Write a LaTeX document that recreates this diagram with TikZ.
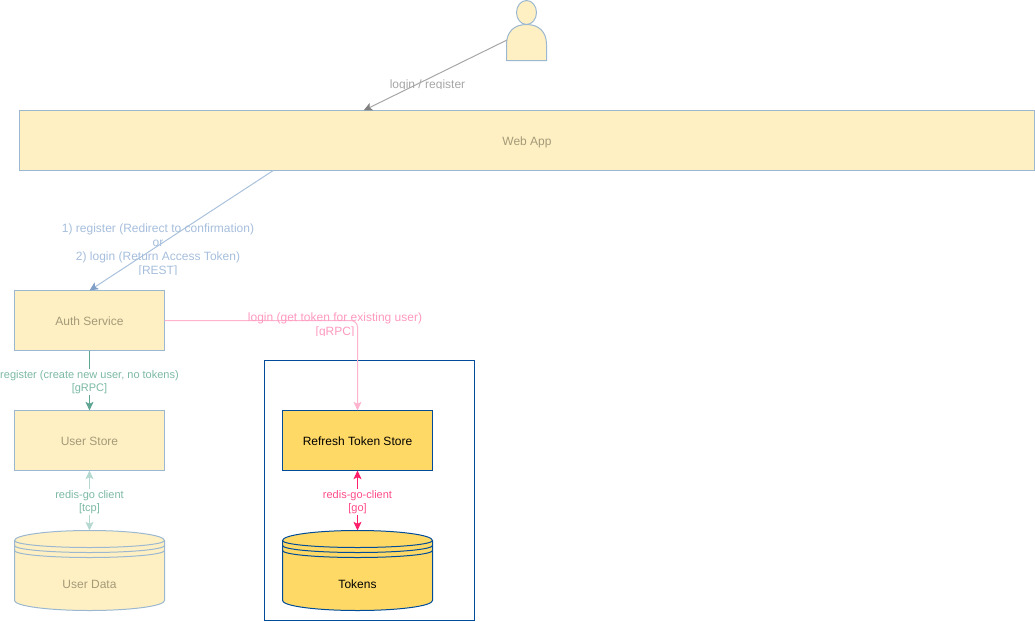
\documentclass[tikz,border=0pt]{standalone}
\usepackage{fontspec}
\setmainfont{Liberation Sans}
\usetikzlibrary{arrows.meta,calc}
\definecolor{boxfill}{HTML}{FFF0C4}
\definecolor{boxline}{HTML}{9BB8D0}
\definecolor{boxtext}{HTML}{A39A78}
\definecolor{tokenfill}{HTML}{FFD966}
\definecolor{tokenline}{HTML}{004C99}
\definecolor{greyline}{HTML}{A6A6A6}
\definecolor{greytip}{HTML}{808080}
\definecolor{greytext}{HTML}{A6A6A6}
\definecolor{restline}{HTML}{A9C1DC}
\definecolor{resttip}{HTML}{7F9FC6}
\definecolor{resttext}{HTML}{A6BEDC}
\definecolor{loginline}{HTML}{FFB3CE}
\definecolor{logintext}{HTML}{FF99BF}
\definecolor{regline}{HTML}{5FA593}
\definecolor{regtext}{HTML}{7CB9A6}
\definecolor{redisline}{HTML}{B5D9D0}
\definecolor{tokenarrow}{HTML}{FF1F6B}
\definecolor{tokentext}{HTML}{FF4D88}
\tikzset{
  service/.style={draw=boxline,fill=boxfill,text=boxtext,line width=.75pt,outer sep=0pt,inner sep=0pt,align=center,font=\fontsize{9}{10.5}\selectfont,minimum width=112.5pt,minimum height=45pt,text height=6.75pt,text depth=0pt},
  tokenbox/.style={service,draw=tokenline,fill=tokenfill,text=black},
  anchorbox/.style={inner sep=0pt,outer sep=0pt,minimum width=112.5pt,minimum height=60pt},
  flow/.style={-{Stealth[length=6.5pt,width=6pt,inset=1.5pt]},line width=.75pt},
  biflow/.style={{Stealth[length=6.5pt,width=6pt,inset=1.5pt]}-{Stealth[length=6.5pt,width=6pt,inset=1.5pt]},line width=.75pt},
  biglabel/.style={align=center,inner sep=0pt,font=\fontsize{9}{10.5}\selectfont},
  smalllabel/.style={align=center,inner sep=1pt,fill=white,font=\fontsize{8.25}{9.75}\selectfont},
}
\begin{document}
\begin{tikzpicture}[x=.75pt,y=-.75pt]
    \useasboundingbox (0,0) rectangle (1035,621);
    % person
    \node[minimum width=30pt,minimum height=45pt,inner sep=0pt,outer sep=0pt] (user) at (526.5,30.5) {};
    \draw[boxline,fill=boxfill,line width=.75pt] (526.5,12.5) ellipse (10 and 12);
    \draw[boxline,fill=boxfill,line width=.75pt] (506.5,60.5) -- (506.5,44.5) .. controls (506.5,32) and (514,24.5) .. (526.5,24.5) .. controls (539,24.5) and (546.5,32) .. (546.5,44.5) -- (546.5,60.5) -- cycle;
    \coordinate (userout) at (507,40);
    % boxes
    \node[service,minimum width=761.25pt] (webapp) at (527,140.5) {Web App};
    \node[service] (auth) at (89.5,320.5) {Auth Service};
    \node[service] (userstore) at (89.5,440.5) {User Store};
    \draw[tokenline,line width=.75pt] (264.5,360.5) rectangle (474.5,620.5);
    \node[tokenbox] (tokenstore) at (357.5,440.5) {Refresh Token Store};
    % data stores
    \foreach \nm/\xx/\fc/\lc/\tc/\txt in {userdata/89.5/boxfill/boxline/boxtext/User Data,tokens/357.5/tokenfill/tokenline/black/Tokens}{
      \node[anchorbox] (\nm) at (\xx,570.5) {};
      \draw[\lc,fill=\fc,line width=.75pt] (\xx-75,540.5) arc[start angle=180,end angle=360,x radius=75,y radius=10] -- (\xx+75,600.5) arc[start angle=0,end angle=180,x radius=75,y radius=10] -- cycle;
      \foreach \dy in {0,5,10}{
        \draw[\lc,line width=.75pt] (\xx-75,540.5+\dy) arc[start angle=180,end angle=0,x radius=75,y radius=7];
      }
      \node[biglabel,text=\tc] at (\xx,584) {\txt};
    }
    % connectors
    \draw[greyline,line width=.75pt,-{Stealth[length=6.5pt,width=6pt,inset=1.5pt,color=greytip]}] (userout)--($(webapp.north west)!.339!(webapp.north east)$);
    \draw[restline,line width=.75pt,-{Stealth[length=6.5pt,width=6pt,inset=1.5pt,color=resttip]}] ($(webapp.south west)!.25!(webapp.south east)$)--(auth.north);
    \draw[flow,loginline,rounded corners=5pt] (auth.east)-|(tokenstore.north);
    \draw[flow,regline] (auth.south)--(userstore.north);
    \draw[biflow,redisline] (userstore.south)--(userdata.north);
    \draw[biflow,tokenarrow] (tokenstore.south)--(tokens.north);
    % labels, the top three cut off at their lower edge
    \begin{scope}
      \clip (380,70) rectangle (480,88.5);
      \node[biglabel,text=greytext] (loginlabel) at (427.5,85) {login / register};
    \end{scope}
    \begin{scope}
      \clip (50,215) rectangle (270,274.5);
      \node[biglabel,text=resttext] (restlabel) at (158,250) {1) register (Redirect to confirmation)\\or\\2) login (Return Access Token)\\{[REST]}};
    \end{scope}
    \begin{scope}
      \clip (240,305) rectangle (430,335.5);
      \node[biglabel,text=logintext] (tokenlabel) at (335,325) {login (get token for existing user)\\{[gRPC]}};
    \end{scope}
    \node[smalllabel,text=regtext] (reglabel) at (89.5,382) {register (create new user, no tokens)\\{[gRPC]}};
    \node[smalllabel,text=regtext] (redislabel) at (89.5,502) {redis-go client\\{[tcp]}};
    \node[smalllabel,text=tokentext] (golabel) at (357.5,502) {redis-go-client\\{[go]}};
  \end{tikzpicture}
\end{document}
